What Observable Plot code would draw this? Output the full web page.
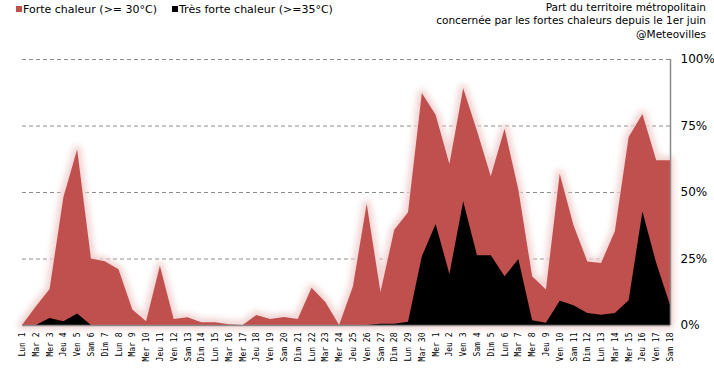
<!DOCTYPE html>
<html>
<head>
<meta charset="utf-8">
<script src="https://cdn.jsdelivr.net/npm/d3@7"></script>
<script src="https://cdn.jsdelivr.net/npm/@observablehq/plot@0.6"></script>
<style>
  html, body { margin: 0; padding: 0; background: #fff; }
  #wrap { position: relative; width: 714px; height: 383px; overflow: hidden; font-family: "DejaVu Sans", Verdana, sans-serif; }
  #header { position: relative; height: 50px; }
  .leg { position: absolute; top: 3px; font-size: 11px; color: #000; white-space: nowrap; }
  .sw { display: inline-block; width: 6px; height: 6px; margin-right: 1px; vertical-align: 1px; }
  #title { position: absolute; right: 8px; top: 1px; text-align: right; font-size: 10.5px; line-height: 13.3px; color: #000; }
</style>
</head>
<body>
<div id="wrap">
  <div id="header">
    <div class="leg" style="left:16px"><span class="sw" style="background:#C0504D"></span>Forte chaleur (&gt;= 30°C)</div>
    <div class="leg" style="left:172px"><span class="sw" style="background:#000"></span>Très forte chaleur (&gt;=35°C)</div>
    <div id="title">Part du territoire métropolitain<br>concernée par les fortes chaleurs depuis le 1er juin<br>@Meteovilles</div>
  </div>
  <div id="chart"></div>
</div>
<script>
const labels = [
  "Lun 1","Mar 2","Mer 3","Jeu 4","Ven 5","Sam 6","Dim 7","Lun 8","Mar 9","Mer 10",
  "Jeu 11","Ven 12","Sam 13","Dim 14","Lun 15","Mar 16","Mer 17","Jeu 18","Ven 19","Sam 20",
  "Dim 21","Lun 22","Mar 23","Mer 24","Jeu 25","Ven 26","Sam 27","Dim 28","Lun 29","Mar 30",
  "Mer 1","Jeu 2","Ven 3","Sam 4","Dim 5","Lun 6","Mar 7","Mer 8","Jeu 9","Ven 10",
  "Sam 11","Dim 12","Lun 13","Mar 14","Mer 15","Jeu 16","Ven 17","Sam 18"
];
const forte = [
  0, 7, 13.5, 48, 66, 25, 24, 21, 5.8, 1.4,
  22.3, 2.3, 2.9, 1, 1, 0.3, 0, 3.8, 2.3, 3,
  2.3, 14, 8.6, 0, 14.5, 45.6, 12.4, 35.8, 42.4, 87.2,
  79, 60.5, 89, 73, 55.9, 73.8, 50.9, 18.3, 13.3, 56.9,
  37.5, 23.9, 23.3, 35.2, 70.7, 79.3, 61.9, 61.9
];
const tresForte = [
  0, 0, 2.6, 1.4, 4.3, 0, 0, 0, 0, 0,
  0, 0, 0, 0, 0, 0, 0, 0, 0, 0,
  0, 0, 0, 0, 0, 0, 0.5, 0.5, 1.2, 25.8,
  38, 19.2, 46.5, 26.2, 26.2, 18.3, 24.8, 1.8, 0.8, 9.1,
  7.4, 4.5, 3.9, 4.5, 9.3, 42.7, 23.3, 7.6
];
const yTicks = [0, 25, 50, 75, 100];

const data = labels.map((d, i) => ({label: d, forte: forte[i], tres: tresForte[i]}));

const chart = Plot.plot({
  width: 714,
  height: 333,
  marginTop: 9,
  marginBottom: 58,
  marginLeft: 22,
  marginRight: 44,
  style: {fontFamily: "DejaVu Sans, Verdana, sans-serif", background: "#fff"},
  x: {type: "point", domain: labels, padding: 0, label: null},
  y: {domain: [0, 100], label: null},
  marks: [
    Plot.ruleY(yTicks.filter(d => d > 0), {stroke: "#8c8c8c", strokeDasharray: "4,3", strokeWidth: 1}),
    Plot.areaY(data, {x: "label", y: "forte", fill: "#f0d3d2", stroke: "#f0d3d2", strokeWidth: 8, strokeLinejoin: "round"}),
    Plot.areaY(data, {x: "label", y: "forte", fill: "#C0504D"}),
    Plot.areaY(data, {x: "label", y: "tres", fill: "#000"}),
    Plot.ruleY([0], {stroke: "#8c8c8c", strokeWidth: 1.5}),
    Plot.ruleX([labels[labels.length - 1]], {y1: 0, y2: 100, stroke: "#8c8c8c", strokeWidth: 1.5}),
    Plot.axisY({anchor: "right", ticks: yTicks, tickFormat: d => d + "%", tickSize: 0, tickPadding: 10, fontSize: 12, fill: "#000", label: null}),
    Plot.axisX({anchor: "bottom", tickRotate: -90, tickSize: 0, tickPadding: 7, fontSize: 8, fontFamily: "DejaVu Sans Mono, monospace", fill: "#000", label: null})
  ]
});
document.getElementById("chart").appendChild(chart);
const areas = d3.select(chart).selectAll("g[aria-label='area']").nodes();
if (areas.length) areas[0].style.filter = "blur(3px)";
</script>
</body>
</html>
